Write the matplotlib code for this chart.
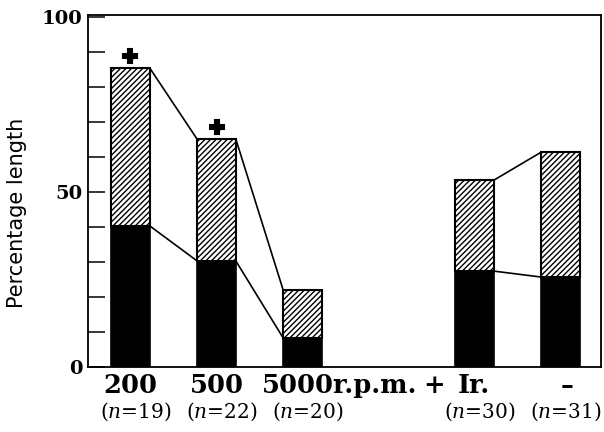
import numpy as np
import matplotlib.pyplot as plt

plt.rcParams['mathtext.fontset'] = 'dejavuserif'
plt.rcParams['hatch.linewidth'] = 1.0

# bar positions (gap between the speed series and the irradiation pair)
positions = [0, 1, 2, 4, 5]
total_length = [85.4, 65.1, 22.0, 53.4, 61.4]
black_length = [40.3, 30.3, 8.3, 27.4, 25.7]
n_values = [19, 22, 20, 30, 31]
starred = [True, True, False, False, False]
# pairs of bars joined by lines
links = [(0, 1), (1, 2), (3, 4)]

width = 0.45

fig = plt.figure(figsize=(6.04, 4.32), dpi=100)
ax = fig.add_axes([0.1457, 0.1505, 0.8493, 0.8148])

x = np.array(positions, dtype=float)
total = np.array(total_length)
black = np.array(black_length)

ax.bar(x, black, width, color='black', edgecolor='black', linewidth=1.2)
ax.bar(x, total - black, width, bottom=black, color='white',
       edgecolor='black', linewidth=1.5, hatch='//////')

for i, j in links:
    for vals in (total, black):
        ax.plot([x[i] + width / 2, x[j] - width / 2], [vals[i], vals[j]],
                color='black', lw=1.2)

# significance marks above the first two bars
sx = [xi for xi, s in zip(x, starred) if s]
sy = [t + 3.5 for t, s in zip(total, starred) if s]
ax.plot(sx, sy, ls='none', marker='P', ms=10, color='black', mew=1.5,
        mec='black', solid_joinstyle='round')
ax.plot(sx, sy, ls='none', marker='o', ms=5, color='black')

ax.set_xlim(-0.494, 5.47)
ax.set_ylim(0, 100.6)

ax.set_xticks([])
ax.set_yticks([0, 50, 100])
ax.set_yticks(np.arange(10, 100, 10), minor=True)
ax.set_yticklabels(['0', '50', '100'], family='DejaVu Serif',
                   fontweight='bold', fontsize=14)
ax.tick_params(axis='y', which='both', direction='in', length=12,
               width=1.1, pad=4)
for sp in ax.spines.values():
    sp.set_linewidth(1.3)

ax.set_ylabel('Percentage length', fontsize=15)
ax.yaxis.set_label_coords(-0.119, 0.4375)

tr = ax.get_xaxis_transform()
big = dict(family='DejaVu Serif', fontweight='bold', fontsize=18.5,
           va='center', transform=tr)
ax.text(0, -0.052, '200', ha='center', **big)
ax.text(1, -0.052, '500', ha='center', **big)
ax.text(1.53, -0.052, '5000r.p.m.', ha='left', **big)
ax.text(3.53, -0.052, '+', ha='center', **big)
ax.text(3.99, -0.052, 'Ir.', ha='center', **big)
ax.text(5.07, -0.052, '\u2013', ha='center', **big)

for xi, n in zip(x, n_values):
    ax.text(xi + 0.06, -0.128, '($\\it{n}$=%d)' % n, ha='center', va='center',
            family='DejaVu Serif', fontsize=14.5, transform=tr)

fig.savefig('out.png', dpi=100)
